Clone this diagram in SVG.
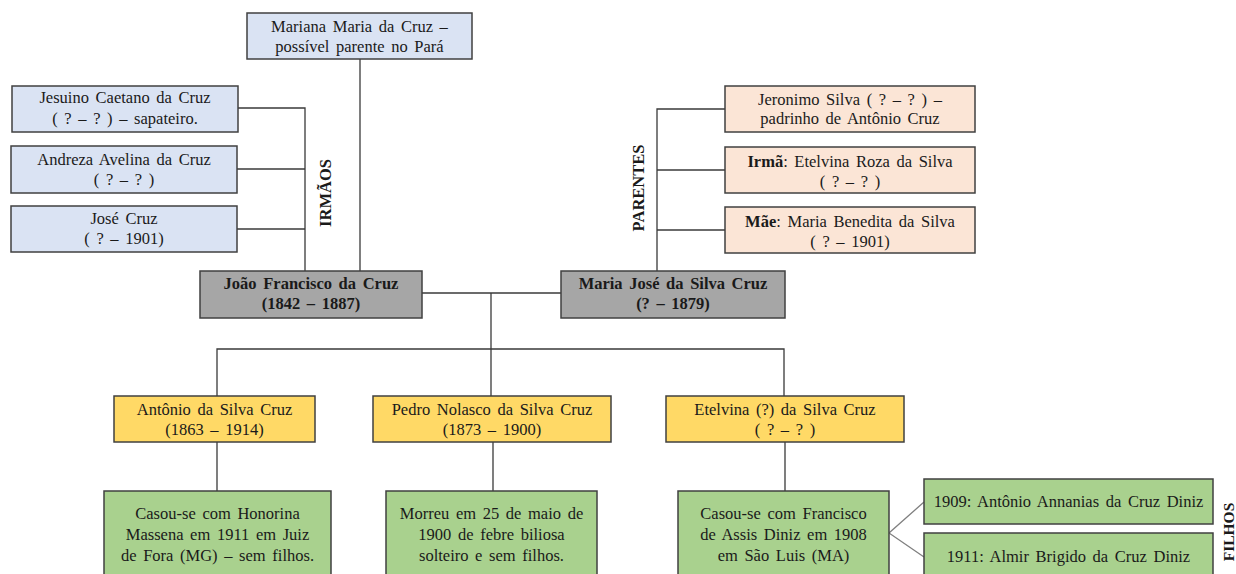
<svg xmlns="http://www.w3.org/2000/svg" width="1236" height="574" viewBox="0 0 1236 574">
<defs>
<style>
text{font-family:"Liberation Serif","Times New Roman",serif;font-size:16.5px;fill:#1a1a1a;text-anchor:middle;word-spacing:2.5px}
.b{font-weight:bold}
.box{stroke:#404040;stroke-width:1.5}
.blue{fill:#dae3f3}
.peach{fill:#fbe5d6}
.gray{fill:#a6a6a6}
.yellow{fill:#ffd966}
.green{fill:#a9d18e}
.conn line,.conn polyline{stroke:#3a3a3a;stroke-width:1.3;fill:none}
.conn .diag{stroke:#808080}
</style>
</defs>
<rect width="1236" height="574" fill="#ffffff"/>
<g id="connectors" class="conn">
<line x1="360" y1="59" x2="360" y2="271"/>
<polyline points="238,108 305,108 305,271"/>
<line x1="237" y1="169" x2="305" y2="169"/>
<line x1="237" y1="229" x2="305" y2="229"/>
<polyline points="725,109 657,109 657,271"/>
<line x1="657" y1="170" x2="725" y2="170"/>
<line x1="657" y1="230" x2="725" y2="230"/>
<line x1="422" y1="293" x2="561" y2="293"/>
<line x1="491" y1="293" x2="491" y2="396"/>
<polyline points="217,396 217,349 784,349 784,396"/>
<line x1="217" y1="442" x2="217" y2="491"/>
<line x1="493" y1="442" x2="493" y2="491"/>
<line x1="785" y1="442" x2="785" y2="491"/>
<polyline class="diag" points="924,502 889,533 924,557"/>
</g>
<g id="mariana"><rect class="box blue" x="247" y="13" width="225" height="46"/>
<text x="359.5" y="32">Mariana Maria da Cruz –</text><text x="359.5" y="52">possível parente no Pará</text></g>
<g id="jesuino"><rect class="box blue" x="12" y="86" width="226" height="46"/>
<text x="125" y="103">Jesuino Caetano da Cruz</text><text x="125" y="124">( ? – ? ) – sapateiro.</text></g>
<g id="andreza"><rect class="box blue" x="11" y="146" width="226" height="47"/>
<text x="124" y="165">Andreza Avelina da Cruz</text><text x="124" y="185">( ? – ? )</text></g>
<g id="jose"><rect class="box blue" x="11" y="206" width="226" height="46"/>
<text x="124" y="224">José Cruz</text><text x="124" y="244">( ? – 1901)</text></g>
<g id="irmaos"><text class="b" transform="translate(331,193) rotate(-90)">IRMÃOS</text></g>
<g id="joao"><rect class="box gray" x="200" y="271" width="222" height="47"/>
<text class="b" x="311" y="289">João Francisco da Cruz</text><text class="b" x="311" y="309">(1842 – 1887)</text></g>
<g id="mariajose"><rect class="box gray" x="561" y="271" width="224" height="47"/>
<text class="b" x="673" y="289">Maria José da Silva Cruz</text><text class="b" x="673" y="309">(? – 1879)</text></g>
<g id="parentes"><text class="b" transform="translate(644,188) rotate(-90)">PARENTES</text></g>
<g id="jeronimo"><rect class="box peach" x="725" y="86" width="250" height="46"/>
<text x="850" y="105">Jeronimo Silva ( ? – ? ) –</text><text x="850" y="124">padrinho de Antônio Cruz</text></g>
<g id="irma"><rect class="box peach" x="725" y="147" width="250" height="46"/>
<text x="850" y="167"><tspan class="b">Irmã</tspan>: Etelvina Roza da Silva</text><text x="850" y="187">( ? – ? )</text></g>
<g id="mae"><rect class="box peach" x="725" y="207" width="250" height="46"/>
<text x="850" y="227"><tspan class="b">Mãe</tspan>: Maria Benedita da Silva</text><text x="850" y="247">( ? – 1901)</text></g>
<g id="antonio"><rect class="box yellow" x="114" y="396" width="201" height="46"/>
<text x="214.5" y="415">Antônio da Silva Cruz</text><text x="214.5" y="435">(1863 – 1914)</text></g>
<g id="pedro"><rect class="box yellow" x="373" y="396" width="238" height="46"/>
<text x="492" y="415">Pedro Nolasco da Silva Cruz</text><text x="492" y="435">(1873 – 1900)</text></g>
<g id="etelvina"><rect class="box yellow" x="666" y="396" width="238" height="46"/>
<text x="785" y="415">Etelvina (?) da Silva Cruz</text><text x="785" y="435">( ? – ? )</text></g>
<g id="antonio-nota"><rect class="box green" x="104" y="491" width="227" height="95"/>
<text x="217.5" y="519">Casou-se com Honorina</text><text x="217.5" y="540">Massena em 1911 em Juiz</text><text x="217.5" y="561">de Fora (MG) – sem filhos.</text></g>
<g id="pedro-nota"><rect class="box green" x="386" y="491" width="211" height="95"/>
<text x="491.5" y="519">Morreu em 25 de maio de</text><text x="491.5" y="540">1900 de febre biliosa</text><text x="491.5" y="561">solteiro e sem filhos.</text></g>
<g id="etelvina-nota"><rect class="box green" x="678" y="491" width="211" height="95"/>
<text x="783.5" y="519">Casou-se com Francisco</text><text x="783.5" y="540">de Assis Diniz em 1908</text><text x="783.5" y="561">em São Luis (MA)</text></g>
<g id="filho1909"><rect class="box green" x="924" y="479" width="289" height="45"/>
<text x="1068.5" y="507">1909: Antônio Annanias da Cruz Diniz</text></g>
<g id="filho1911"><rect class="box green" x="924" y="533" width="289" height="50"/>
<text x="1068.5" y="562">1911: Almir Brigido da Cruz Diniz</text></g>
<g id="filhos"><text class="b" style="font-size:15.5px" transform="translate(1234,532) rotate(-90)">FILHOS</text></g>
</svg>
